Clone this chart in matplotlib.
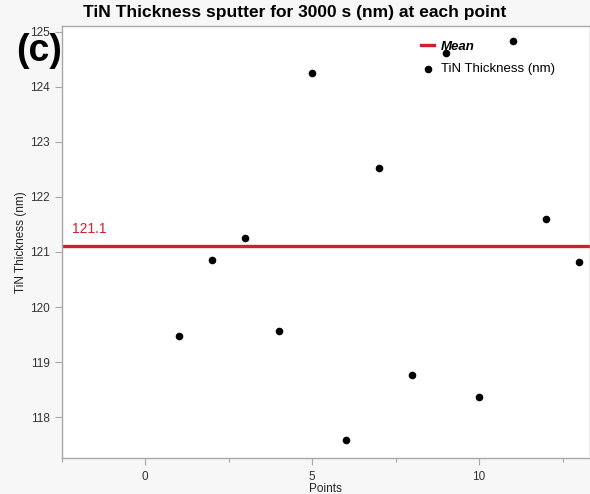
import matplotlib

matplotlib.use("Agg")
import matplotlib.pyplot as plt
from matplotlib.ticker import MultipleLocator
import numpy as np

plt.rcParams["font.family"] = ["Liberation Sans", "DejaVu Sans"]

# data
points = [1, 2, 3, 4, 5, 6, 7, 8, 9, 10, 11, 12, 13]
thickness = [119.48, 120.86, 121.25, 119.56, 124.24, 117.59, 122.52,
             118.77, 124.61, 118.36, 124.83, 121.59, 120.81]
mean_value = 121.1

RED = "#d0202f"
GRID_GRAY = "#a8a8a8"

fig = plt.figure(figsize=(5.9, 4.94), dpi=100)
fig.patch.set_facecolor("#f7f7f7")
ax = fig.add_axes([61.7 / 590, 36 / 494, (590 - 61.7) / 590, (458 - 26) / 494])
ax.set_facecolor("white")

ax.axhline(mean_value, color=RED, lw=2.4, label="Mean", zorder=2)
ax.scatter(points, thickness, s=20, color="black", label="TiN Thickness (nm)",
           zorder=3)

ax.text(-2.2, mean_value + 0.18, f"{mean_value:.1f}", color=RED, fontsize=10,
        ha="left", va="bottom")

ax.set_xlim(-2.5, 13.32)
ax.set_ylim(117.26, 125.1)
ax.xaxis.set_major_locator(MultipleLocator(5))
ax.xaxis.set_minor_locator(MultipleLocator(2.5))
ax.yaxis.set_major_locator(MultipleLocator(1))

for side in ["left", "bottom", "top", "right"]:
    ax.spines[side].set_color(GRID_GRAY)
    ax.spines[side].set_linewidth(1.0)
ax.tick_params(axis="both", which="major", direction="out", length=5,
               width=0.8, color=GRID_GRAY, labelsize=8.5, labelcolor="#333333")
ax.tick_params(axis="x", which="minor", direction="out", length=3,
               width=0.8, color=GRID_GRAY)
ax.tick_params(axis="x", pad=4)

ax.set_xlabel("Points", fontsize=8.5, color="#222222", labelpad=0)
ax.set_ylabel("TiN Thickness (nm)", fontsize=8.5, color="#222222", labelpad=2)

fig.text(0.5, 0.975, "TiN Thickness sputter for 3000 s (nm) at each point",
         ha="center", va="center", fontsize=12.5, fontweight="bold")
fig.text(0.028, 0.897, "(c)", ha="left", va="center", fontsize=27,
         fontweight="bold")

leg = ax.legend(loc="upper left", bbox_to_anchor=(0.67, 0.978), frameon=False,
                fontsize=9.5, handlelength=1.0, handletextpad=0.5,
                labelspacing=0.75, borderaxespad=0)
leg.get_texts()[0].set_fontweight("bold")
leg.get_texts()[0].set_fontstyle("italic")

fig.savefig("out.png", dpi=100, facecolor=fig.get_facecolor())
